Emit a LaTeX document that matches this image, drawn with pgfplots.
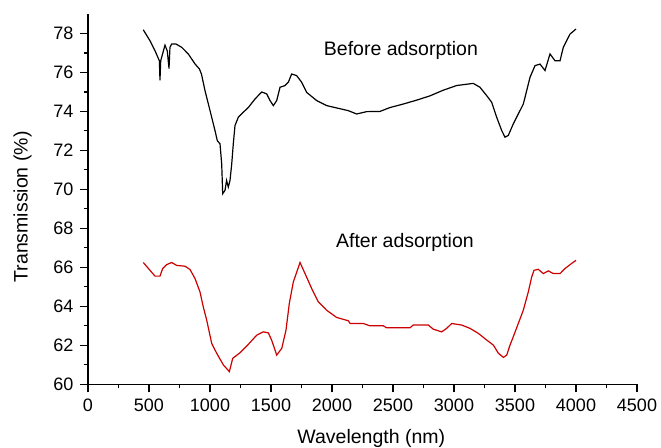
\documentclass[border=0pt]{standalone}
\usepackage{pgfplots}
\pgfplotsset{compat=1.18}
\usepackage{fontspec}
\setmainfont{Liberation Sans}
\definecolor{afterred}{RGB}{204,0,0}
\begin{document}
\begin{tikzpicture}
\begin{axis}[
  scale only axis,
  width=549pt, height=370.3pt,
  xmin=0, xmax=4500, ymin=60, ymax=79,
  axis x line*=bottom, axis y line*=left,
  axis line style={line width=1.3pt},
  xtick={0,500,...,4500}, minor x tick num=1,
  ytick={60,62,...,78}, minor y tick num=1,
  tick align=outside,
  major tick length=8pt, minor tick length=4pt,
  every tick/.style={line width=1.1pt, black},
  /pgf/number format/assume math mode=true,
  /pgf/number format/1000 sep={},
  tick label style={font=\fontsize{18}{20}\selectfont},
  xticklabel style={yshift=-3pt},
  yticklabel style={xshift=-3pt},
  label style={font=\fontsize{19.5}{22}\selectfont},
  xlabel={Wavelength (nm)},
  ylabel={Transmission (\%)},
  xlabel style={at={(ticklabel cs:0.516)}, yshift=-11pt},
  ylabel style={at={(ticklabel cs:0.479)}, yshift=15pt},
  clip=false,
]
\addplot[black, line width=1.2pt] coordinates {
(453,78.19) (508,77.63) (549,77.12) (585,76.6) (590,75.6) (596,76.6) (631,77.4)
(650,77.1) (664,76.2) (672,77.3) (686,77.46) (721,77.46) (768,77.29) (822,76.95)
(877,76.44) (913,76.18) (930,75.92) (959,75.07) (1000,74.05) (1041,73.02)
(1060,72.5) (1082,72.34) (1096,71.3) (1104,69.78) (1123,69.95) (1136,70.46)
(1150,70.12) (1164,70.46) (1178,71.3) (1191,72.34) (1205,73.28) (1232,73.7)
(1273,73.96) (1314,74.2) (1369,74.64) (1424,75.0) (1465,74.9) (1492,74.56)
(1519,74.3) (1547,74.56) (1574,75.24) (1615,75.33) (1642,75.5) (1669,75.92)
(1710,75.84) (1751,75.5) (1792,74.98) (1874,74.56) (1956,74.3) (2038,74.18)
(2134,74.04) (2202,73.87) (2284,73.99) (2393,74.0) (2475,74.2) (2584,74.38)
(2694,74.58) (2803,74.8) (2912,75.09) (3022,75.33) (3158,75.44) (3213,75.24)
(3268,74.81) (3309,74.47) (3350,73.7) (3391,73.02) (3418,72.68) (3445,72.77)
(3486,73.36) (3527,73.87) (3568,74.38) (3596,75.07) (3623,75.75) (3664,76.35)
(3705,76.43) (3746,76.1) (3787,76.95) (3828,76.6) (3869,76.6) (3896,77.29)
(3951,77.97) (4000,78.23)
};
\addplot[afterred, line width=1.2pt] coordinates {
(453,66.25) (508,65.85) (549,65.55) (590,65.55) (612,65.94) (645,66.14)
(686,66.25) (727,66.1) (795,66.06) (836,65.89) (877,65.43) (918,64.74)
(945,63.97) (973,63.29) (1014,62.1) (1055,61.59) (1110,60.99) (1159,60.65)
(1186,61.33) (1246,61.62) (1314,62.05) (1383,62.52) (1437,62.69) (1478,62.64)
(1505,62.27) (1547,61.5) (1588,61.84) (1623,62.78) (1650,64.15) (1683,65.25)
(1738,66.25) (1779,65.68) (1833,64.92) (1888,64.23) (1956,63.8) (2038,63.43)
(2134,63.26) (2148,63.12) (2257,63.12) (2311,63.0) (2421,63.0) (2448,62.9)
(2639,62.9) (2666,63.04) (2789,63.04) (2830,62.83) (2899,62.69) (2940,62.87)
(2981,63.12) (3063,63.04) (3131,62.87) (3200,62.61) (3268,62.27) (3323,62.01)
(3364,61.59) (3405,61.38) (3432,61.5) (3459,62.01) (3486,62.44) (3527,63.12)
(3568,63.8) (3609,64.74) (3637,65.51) (3656,65.85) (3691,65.9) (3732,65.68)
(3773,65.82) (3814,65.68) (3869,65.68) (3910,65.94) (3964,66.2) (4000,66.36)
};
\node[font=\fontsize{19.5}{22}\selectfont] at (axis cs:2565,77.12) {Before adsorption};
\node[font=\fontsize{19.5}{22}\selectfont] at (axis cs:2598,67.29) {After adsorption};
\end{axis}
\pgfresetboundingbox
\path[use as bounding box] (-88pt,-62.7pt) rectangle (573pt,384.3pt);
\end{tikzpicture}
\end{document}
